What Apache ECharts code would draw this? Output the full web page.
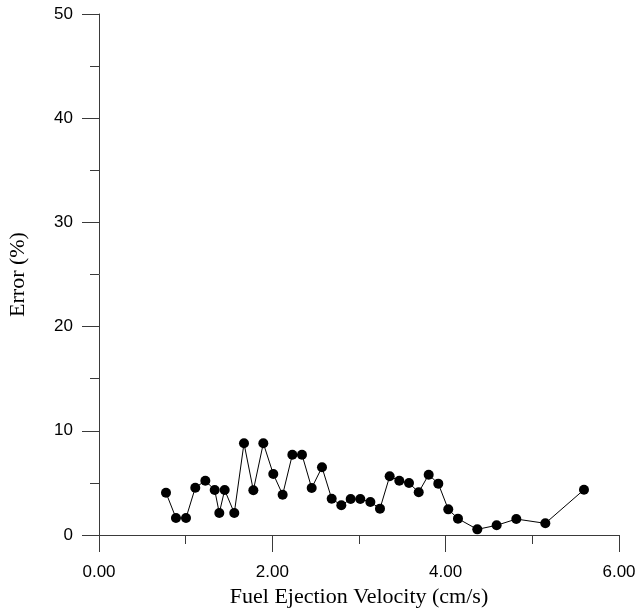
<!DOCTYPE html>
<html>
<head>
<meta charset="utf-8">
<script src="https://cdn.jsdelivr.net/npm/echarts@6/dist/echarts.min.js"></script>
<style>
html,body{margin:0;padding:0;background:#fff;}
#chart{width:637px;height:612px;}
</style>
</head>
<body>
<div id="chart"></div>
<script>
const velocity = [0.773, 0.888, 1.004, 1.111, 1.227, 1.335, 1.388, 1.450, 1.561, 1.673,
  1.781, 1.896, 2.011, 2.119, 2.231, 2.342, 2.454, 2.573, 2.685, 2.796,
  2.904, 3.015, 3.131, 3.242, 3.354, 3.465, 3.577, 3.689, 3.804, 3.915,
  4.030, 4.142, 4.365, 4.588, 4.815, 5.150, 5.596];
const errorPct = [4.06, 1.63, 1.63, 4.54, 5.21, 4.32, 2.11, 4.32, 2.11, 8.80,
  4.29, 8.80, 5.85, 3.87, 7.71, 7.71, 4.51, 6.50, 3.48, 2.85,
  3.45, 3.45, 3.17, 2.53, 5.63, 5.21, 4.99, 4.10, 5.79, 4.93,
  2.46, 1.57, 0.54, 0.93, 1.53, 1.12, 4.35];
const xTitle = 'Fuel Ejection Velocity (cm/s)';
const yTitle = 'Error (%)';

const chart = echarts.init(document.getElementById('chart'), null, {renderer: 'canvas'});
const axisColor = '#3a3a3a';
chart.setOption({
  animation: false,
  backgroundColor: '#fff',
  grid: {left: 99, right: 18, top: 14, bottom: 77, containLabel: false, outerBoundsMode: 'none'},
  xAxis: {
    type: 'value', min: 0, max: 6, interval: 2,
    name: xTitle, nameLocation: 'middle', nameGap: 44,
    nameTextStyle: {fontFamily: 'Liberation Serif', fontSize: 22, color: '#000'},
    axisLine: {show: true, onZero: false, lineStyle: {color: axisColor, width: 1}},
    axisTick: {show: true, inside: false, length: 17, lineStyle: {color: axisColor}},
    minorTick: {show: true, splitNumber: 2, length: 9, lineStyle: {color: axisColor}},
    axisLabel: {margin: 29, fontFamily: 'Liberation Sans', fontSize: 17, color: '#000',
      formatter: v => v.toFixed(2)},
    splitLine: {show: false}
  },
  yAxis: {
    type: 'value', min: 0, max: 50, interval: 10,
    name: yTitle, nameLocation: 'middle', nameGap: 70,
    nameTextStyle: {fontFamily: 'Liberation Serif', fontSize: 22, color: '#000'},
    axisLine: {show: true, onZero: false, lineStyle: {color: axisColor, width: 1}},
    axisTick: {show: true, inside: false, length: 17, lineStyle: {color: axisColor}},
    minorTick: {show: true, splitNumber: 2, length: 9, lineStyle: {color: axisColor}},
    axisLabel: {margin: 26, fontFamily: 'Liberation Sans', fontSize: 17, color: '#000'},
    splitLine: {show: false}
  },
  series: [{
    type: 'line',
    data: velocity.map((v, i) => [v, errorPct[i]]),
    symbol: 'circle', symbolSize: 10,
    itemStyle: {color: '#000'},
    lineStyle: {color: '#000', width: 1},
    z: 3
  }]
});
</script>
</body>
</html>
